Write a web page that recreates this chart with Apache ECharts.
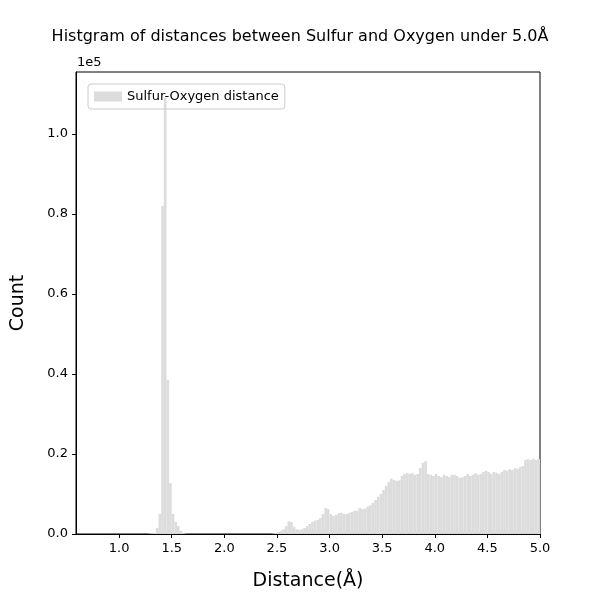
<!DOCTYPE html>
<html><head><meta charset="utf-8">
<script src="https://cdn.jsdelivr.net/npm/echarts@6/dist/echarts.min.js"></script>
<style>body{margin:0}#c{width:600px;height:600px}</style></head>
<body><div id="c"></div>
<script>
const binWidth = 0.025;
const peakStart = 1.275;
const peakCounts = [100,200,300,1500,5000,82000,109000,38500,12700,5000,3000,2000,800,200,50];
const tailStart = 2.45;
const tailCounts = [100,300,500,800,1200,2000,3200,3000,1800,1200,1000,1200,1500,2000,
 2500,3000,3300,3500,4000,5000,6500,6200,5000,4500,4800,5200,5300,5000,5000,5300,5500,5800,5800,6500,6200,6300,
 6800,7200,7800,8500,9300,10000,11000,12000,13000,13800,13500,13300,13400,14500,15000,15200,15000,15200,14800,15000,
 16500,17800,18200,15000,14800,14500,15000,14500,14200,14800,14500,14200,14800,14800,14500,14000,14200,14500,15000,
 14500,14800,15200,14800,15000,15500,15800,15500,15000,15500,15300,15000,15500,16000,15800,16200,16000,16500,16300,
 16800,17000,18500,18700,18500,18800,18500,18700];
const xTicks = [1.0,1.5,2.0,2.5,3.0,3.5,4.0,4.5,5.0];
const yTicks = [0,20000,40000,60000,80000,100000];

const bins = [];
peakCounts.forEach((c,i)=>bins.push([peakStart+i*binWidth, peakStart+(i+1)*binWidth, c]));
tailCounts.forEach((c,i)=>bins.push([tailStart+i*binWidth, tailStart+(i+1)*binWidth, c]));

const chart = echarts.init(document.getElementById('c'));
chart.setOption({
  animation:false,
  textStyle:{fontFamily:'DejaVu Sans'},
  title:{text:'Histgram of distances between Sulfur and Oxygen under 5.0Å',left:'center',top:24,
    textStyle:{fontSize:16,fontWeight:'normal',color:'#000',fontFamily:'DejaVu Sans'}},
  grid:{left:76,right:60,top:72,bottom:66,show:true,borderColor:'#000',borderWidth:1},
  legend:{left:88,top:84,itemWidth:28,itemHeight:10,padding:[6,6],borderColor:'#ccc',borderWidth:1,borderRadius:3,
    textStyle:{fontSize:13,color:'#000'},data:[{name:'Sulfur-Oxygen distance',icon:'rect'}]},
  xAxis:{type:'value',min:0.59,max:5.0,name:'Distance(Å)',nameLocation:'middle',nameGap:38,
    nameTextStyle:{fontSize:19,color:'#000'},
    axisLine:{lineStyle:{color:'#000'}},splitLine:{show:false},
    axisTick:{customValues:xTicks,lineStyle:{color:'#000'},length:4},
    axisLabel:{customValues:xTicks,color:'#000',fontSize:13,formatter:v=>v.toFixed(1)}},
  yAxis:{type:'value',min:0,max:115500,name:'Count',nameLocation:'middle',nameGap:48,
    nameTextStyle:{fontSize:19,color:'#000'},
    axisLine:{show:true,lineStyle:{color:'#000'}},splitLine:{show:false},
    axisTick:{show:true,customValues:yTicks,lineStyle:{color:'#000'},length:4},
    axisLabel:{customValues:yTicks,color:'#000',fontSize:13,formatter:v=>(v/1e5).toFixed(1)}},
  graphic:[{type:'text',left:77,top:56,style:{text:'1e5',fontSize:13,fill:'#000',fontFamily:'DejaVu Sans'}}],
  series:[{type:'custom',name:'Sulfur-Oxygen distance',itemStyle:{color:'#dcdcdc'},
    data:bins,encode:{x:[0,1],y:2},
    renderItem:(params,api)=>{
      const p0=api.coord([api.value(0),api.value(2)]);
      const p1=api.coord([api.value(1),0]);
      return {type:'rect',shape:{x:p0[0],y:p0[1],width:p1[0]-p0[0],height:p1[1]-p0[1]},
        style:{fill:'#dcdcdc'}};
    }}]
});
</script></body></html>
